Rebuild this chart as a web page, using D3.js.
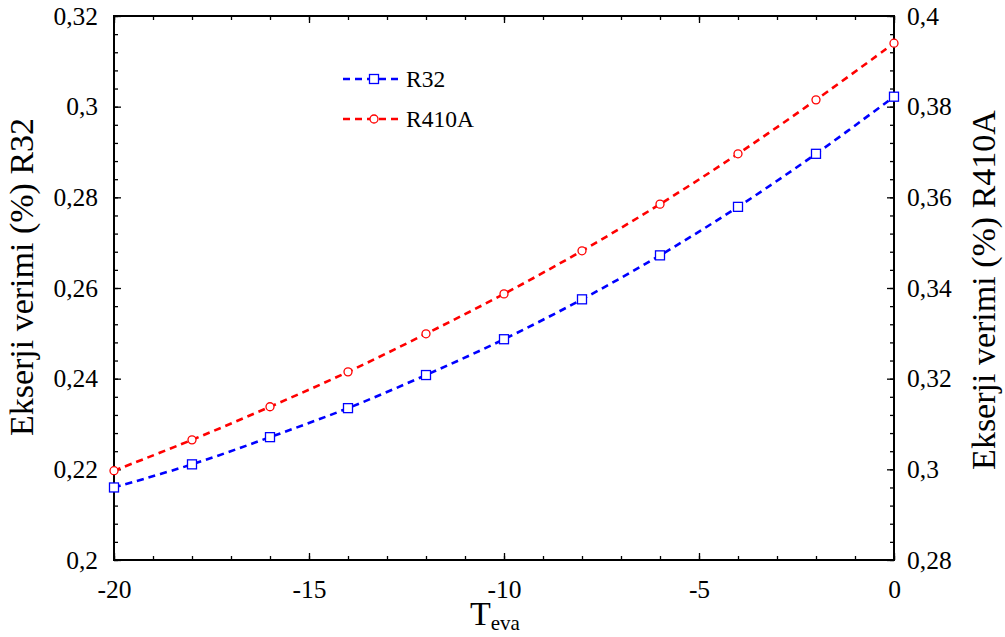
<!DOCTYPE html>
<html>
<head>
<meta charset="utf-8">
<script src="https://cdn.jsdelivr.net/npm/d3@7"></script>
<style>
  body { margin: 0; background: #fff; }
  svg, svg text { font-family: "Liberation Serif", "Times New Roman", Times, serif !important; }
</style>
</head>
<body>
<div id="chart-area"></div>
<script>
// data
const teva = [-20, -18, -16, -14, -12, -10, -8, -6, -4, -2, 0];
const r32 = [0.2160, 0.2211, 0.2271, 0.2335, 0.2408, 0.2487, 0.2575, 0.2672, 0.2779, 0.2896, 0.3022];
const r410a = [0.2997, 0.3065, 0.3138, 0.3215, 0.3299, 0.3387, 0.3482, 0.3585, 0.3696, 0.3815, 0.3940];
const xTicks = [-20, -15, -10, -5, 0];
const yLeftTicks = [0.2, 0.22, 0.24, 0.26, 0.28, 0.3, 0.32];
const yRightTicks = [0.28, 0.3, 0.32, 0.34, 0.36, 0.38, 0.4];

const W = 1005, H = 637;
const MARGIN = { LEFT: 114, RIGHT: 111, TOP: 16, BOTTOM: 77 };
const WIDTH = W - MARGIN.LEFT - MARGIN.RIGHT;
const HEIGHT = H - MARGIN.TOP - MARGIN.BOTTOM;
const SERIF = "'Liberation Serif', 'Times New Roman', Times, serif";

const svg = d3.select("#chart-area").append("svg")
  .attr("width", W)
  .attr("height", H)
  .style("font-family", SERIF);

const g = svg.append("g")
  .attr("transform", `translate(${MARGIN.LEFT}, ${MARGIN.TOP})`);

const x = d3.scaleLinear().domain([-20, 0]).range([0, WIDTH]);
const yL = d3.scaleLinear().domain([0.2, 0.32]).range([HEIGHT, 0]);
const yR = d3.scaleLinear().domain([0.28, 0.4]).range([HEIGHT, 0]);

const fmt = d => d3.format(".2~f")(d).replace(".", ",");

// minor ticks
const xMinor = d3.range(-20, 0.5, 1);
const yLMinor = d3.range(0.2, 0.3201, 0.004);
const yRMinor = d3.range(0.28, 0.4001, 0.004);

function styleAxis(sel) {
  sel.attr("font-family", null).attr("font-size", null);
  sel.select(".domain").remove();
  sel.selectAll("line").attr("stroke", "#000").attr("stroke-width", 1.3);
  sel.selectAll("text")
    .attr("fill", "#000")
    .style("font-family", SERIF)
    .style("font-size", "25.5px");
}

// bottom
g.append("g").attr("transform", `translate(0, ${HEIGHT})`)
  .call(d3.axisBottom(x).tickValues(xMinor).tickSize(-4).tickFormat(""))
  .call(styleAxis);
g.append("g").attr("transform", `translate(0, ${HEIGHT})`)
  .call(d3.axisBottom(x).tickValues(xTicks).tickSizeInner(-7).tickPadding(15).tickFormat(d => d))
  .call(styleAxis)
  .selectAll("text").attr("dy", "0.9em");
// top
g.append("g")
  .call(d3.axisTop(x).tickValues(xMinor).tickSize(-4).tickFormat(""))
  .call(styleAxis);
g.append("g")
  .call(d3.axisTop(x).tickValues(xTicks).tickSize(-7).tickFormat(""))
  .call(styleAxis);
// left
g.append("g")
  .call(d3.axisLeft(yL).tickValues(yLMinor).tickSize(-4).tickFormat(""))
  .call(styleAxis);
g.append("g")
  .call(d3.axisLeft(yL).tickValues(yLeftTicks).tickSizeInner(-7).tickPadding(16).tickFormat(fmt))
  .call(styleAxis);
// right
g.append("g").attr("transform", `translate(${WIDTH}, 0)`)
  .call(d3.axisRight(yR).tickValues(yRMinor).tickSize(-4).tickFormat(""))
  .call(styleAxis);
g.append("g").attr("transform", `translate(${WIDTH}, 0)`)
  .call(d3.axisRight(yR).tickValues(yRightTicks).tickSizeInner(-7).tickPadding(13).tickFormat(fmt))
  .call(styleAxis);

// frame
g.append("rect")
  .attr("width", WIDTH).attr("height", HEIGHT)
  .attr("fill", "none").attr("stroke", "#000").attr("stroke-width", 2);

// series
const series = [
  { name: "R32", vals: r32, y: yL, color: "#0000ff", marker: "square" },
  { name: "R410A", vals: r410a, y: yR, color: "#ff0000", marker: "circle" }
];

series.forEach(s => {
  const pts = teva.map((t, i) => [t, s.vals[i]]);
  const line = d3.line()
    .x(d => x(d[0]))
    .y(d => s.y(d[1]))
    .curve(d3.curveCatmullRom);
  g.append("path")
    .datum(pts)
    .attr("d", line)
    .attr("fill", "none")
    .attr("stroke", s.color)
    .attr("stroke-width", 2.6)
    .attr("stroke-dasharray", "7,5");

  if (s.marker === "square") {
    g.selectAll(".m-" + s.name).data(pts).enter().append("rect")
      .attr("x", d => x(d[0]) - 4.5)
      .attr("y", d => s.y(d[1]) - 4.5)
      .attr("width", 9).attr("height", 9)
      .attr("fill", "#fff").attr("stroke", s.color).attr("stroke-width", 1.3);
  } else {
    g.selectAll(".m-" + s.name).data(pts).enter().append("circle")
      .attr("cx", d => x(d[0]))
      .attr("cy", d => s.y(d[1]))
      .attr("r", 4)
      .attr("fill", "#fff").attr("stroke", s.color).attr("stroke-width", 1.3);
  }
});

// legend
const legend = svg.append("g");
series.forEach((s, i) => {
  const ly = 79 + i * 40;
  legend.append("line")
    .attr("x1", 343).attr("x2", 402).attr("y1", ly).attr("y2", ly)
    .attr("stroke", s.color).attr("stroke-width", 2.6).attr("stroke-dasharray", "7,5");
  if (s.marker === "square") {
    legend.append("rect").attr("x", 374 - 4.5).attr("y", ly - 4.5)
      .attr("width", 9).attr("height", 9)
      .attr("fill", "#fff").attr("stroke", s.color).attr("stroke-width", 1.3);
  } else {
    legend.append("circle").attr("cx", 374).attr("cy", ly).attr("r", 4)
      .attr("fill", "#fff").attr("stroke", s.color).attr("stroke-width", 1.3);
  }
  legend.append("text")
    .attr("x", 406).attr("y", ly + 8)
    .style("font-size", "23.5px")
    .text(s.name);
});

// axis titles
svg.append("text")
  .attr("transform", "translate(33, 277) rotate(-90)")
  .attr("text-anchor", "middle")
  .style("font-size", "34px")
  .text("Ekserji verimi (%) R32");

svg.append("text")
  .attr("transform", "translate(995, 290) rotate(-90)")
  .attr("text-anchor", "middle")
  .style("font-size", "34px")
  .text("Ekserji verimi (%) R410A");

const xt = svg.append("text")
  .attr("x", 470).attr("y", 625)
  .style("font-size", "34px");
xt.append("tspan").text("T");
xt.append("tspan").style("font-size", "21px").attr("dy", 5).text("eva");
</script>
</body>
</html>
